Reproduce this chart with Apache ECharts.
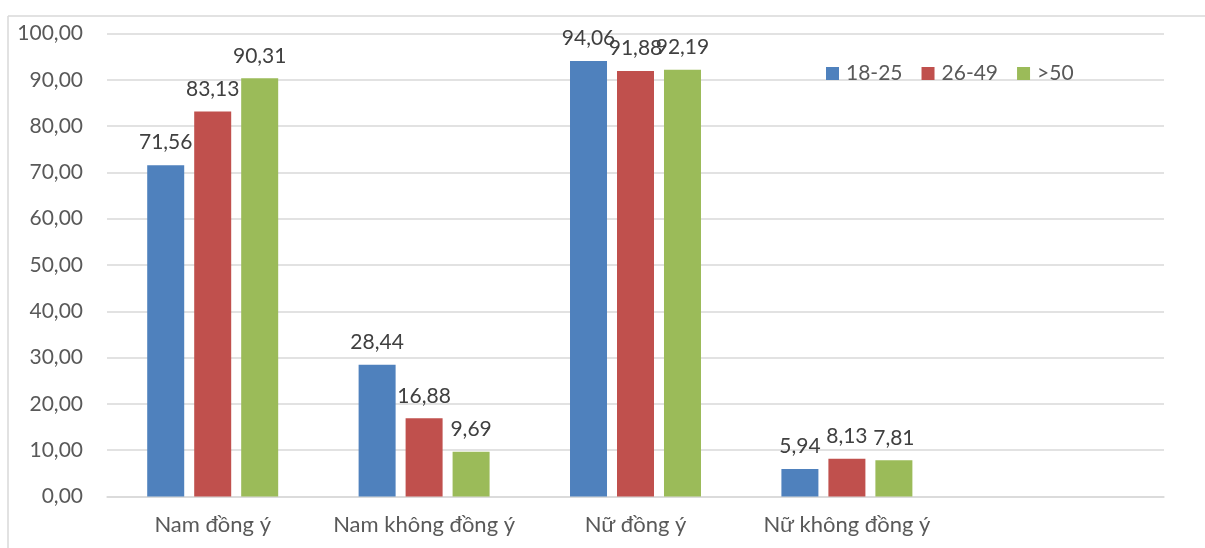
<!DOCTYPE html>
<html>
<head>
<meta charset="utf-8">
<script src="https://cdn.jsdelivr.net/npm/echarts@6/dist/echarts.min.js"></script>
<style>
  html, body { margin: 0; padding: 0; background: #fff; }
  #chart { width: 1205px; height: 548px; }
</style>
</head>
<body>
<div id="chart"></div>
<script>
// Categories (the trailing empty slot leaves room for the legend)
const categories = ['Nam đồng ý', 'Nam không đồng ý', 'Nữ đồng ý', 'Nữ không đồng ý', ''];
const seriesNames = ['18-25', '26-49', '>50'];
const age18to25 = [71.56, 28.44, 94.06, 5.94];
const age26to49 = [83.13, 16.88, 91.88, 8.13];
const age50plus = [90.31, 9.69, 92.19, 7.81];
const colors = ['#4F81BD', '#C0504D', '#9BBB59'];

const FONT = 'Lato, "Open Sans", sans-serif';
const fmt = v => Number(v).toFixed(2).replace('.', ',');

function barSeries(name, data, color) {
  return {
    name: name,
    type: 'bar',
    data: data,
    barWidth: 37,
    barGap: '27%',
    itemStyle: { color: color },
    label: {
      show: true,
      position: 'top',
      distance: 12,
      fontFamily: FONT,
      fontSize: 21,
      color: '#404040',
      formatter: p => fmt(p.value)
    }
  };
}

const chart = echarts.init(document.getElementById('chart'), null, { renderer: 'canvas' });
chart.setOption({
  animation: false,
  backgroundColor: '#fff',
  textStyle: { fontFamily: FONT },
  color: colors,
  graphic: [
    { type: 'line', shape: { x1: 8, y1: 16, x2: 1205, y2: 16 }, style: { stroke: '#d9d9d9', lineWidth: 1.5 } },
    { type: 'line', shape: { x1: 8, y1: 16, x2: 8, y2: 548 }, style: { stroke: '#d9d9d9', lineWidth: 1.5 } }
  ],
  grid: { left: 107, right: 41, top: 33.5, bottom: 51.5, containLabel: false },
  legend: {
    data: seriesNames,
    left: 821,
    top: 58,
    icon: 'rect',
    itemWidth: 13,
    itemHeight: 13,
    itemGap: 19,
    textStyle: { fontFamily: FONT, fontSize: 21, color: '#595959', padding: [0, 0, 0, 2] }
  },
  xAxis: {
    type: 'category',
    data: categories,
    axisLine: { show: true, lineStyle: { color: '#d9d9d9', width: 1.5 } },
    axisTick: { show: false },
    axisLabel: { fontFamily: FONT, fontSize: 22, color: '#595959', margin: 17, interval: 0 }
  },
  yAxis: {
    type: 'value',
    min: 0,
    max: 100,
    interval: 10,
    axisLine: { show: false },
    axisTick: { show: false },
    splitLine: { lineStyle: { color: '#d9d9d9', width: 1.5 } },
    axisLabel: { fontFamily: FONT, fontSize: 21, color: '#595959', margin: 24, formatter: v => fmt(v) }
  },
  series: [
    barSeries(seriesNames[0], age18to25, colors[0]),
    barSeries(seriesNames[1], age26to49, colors[1]),
    barSeries(seriesNames[2], age50plus, colors[2])
  ]
});
</script>
</body>
</html>
